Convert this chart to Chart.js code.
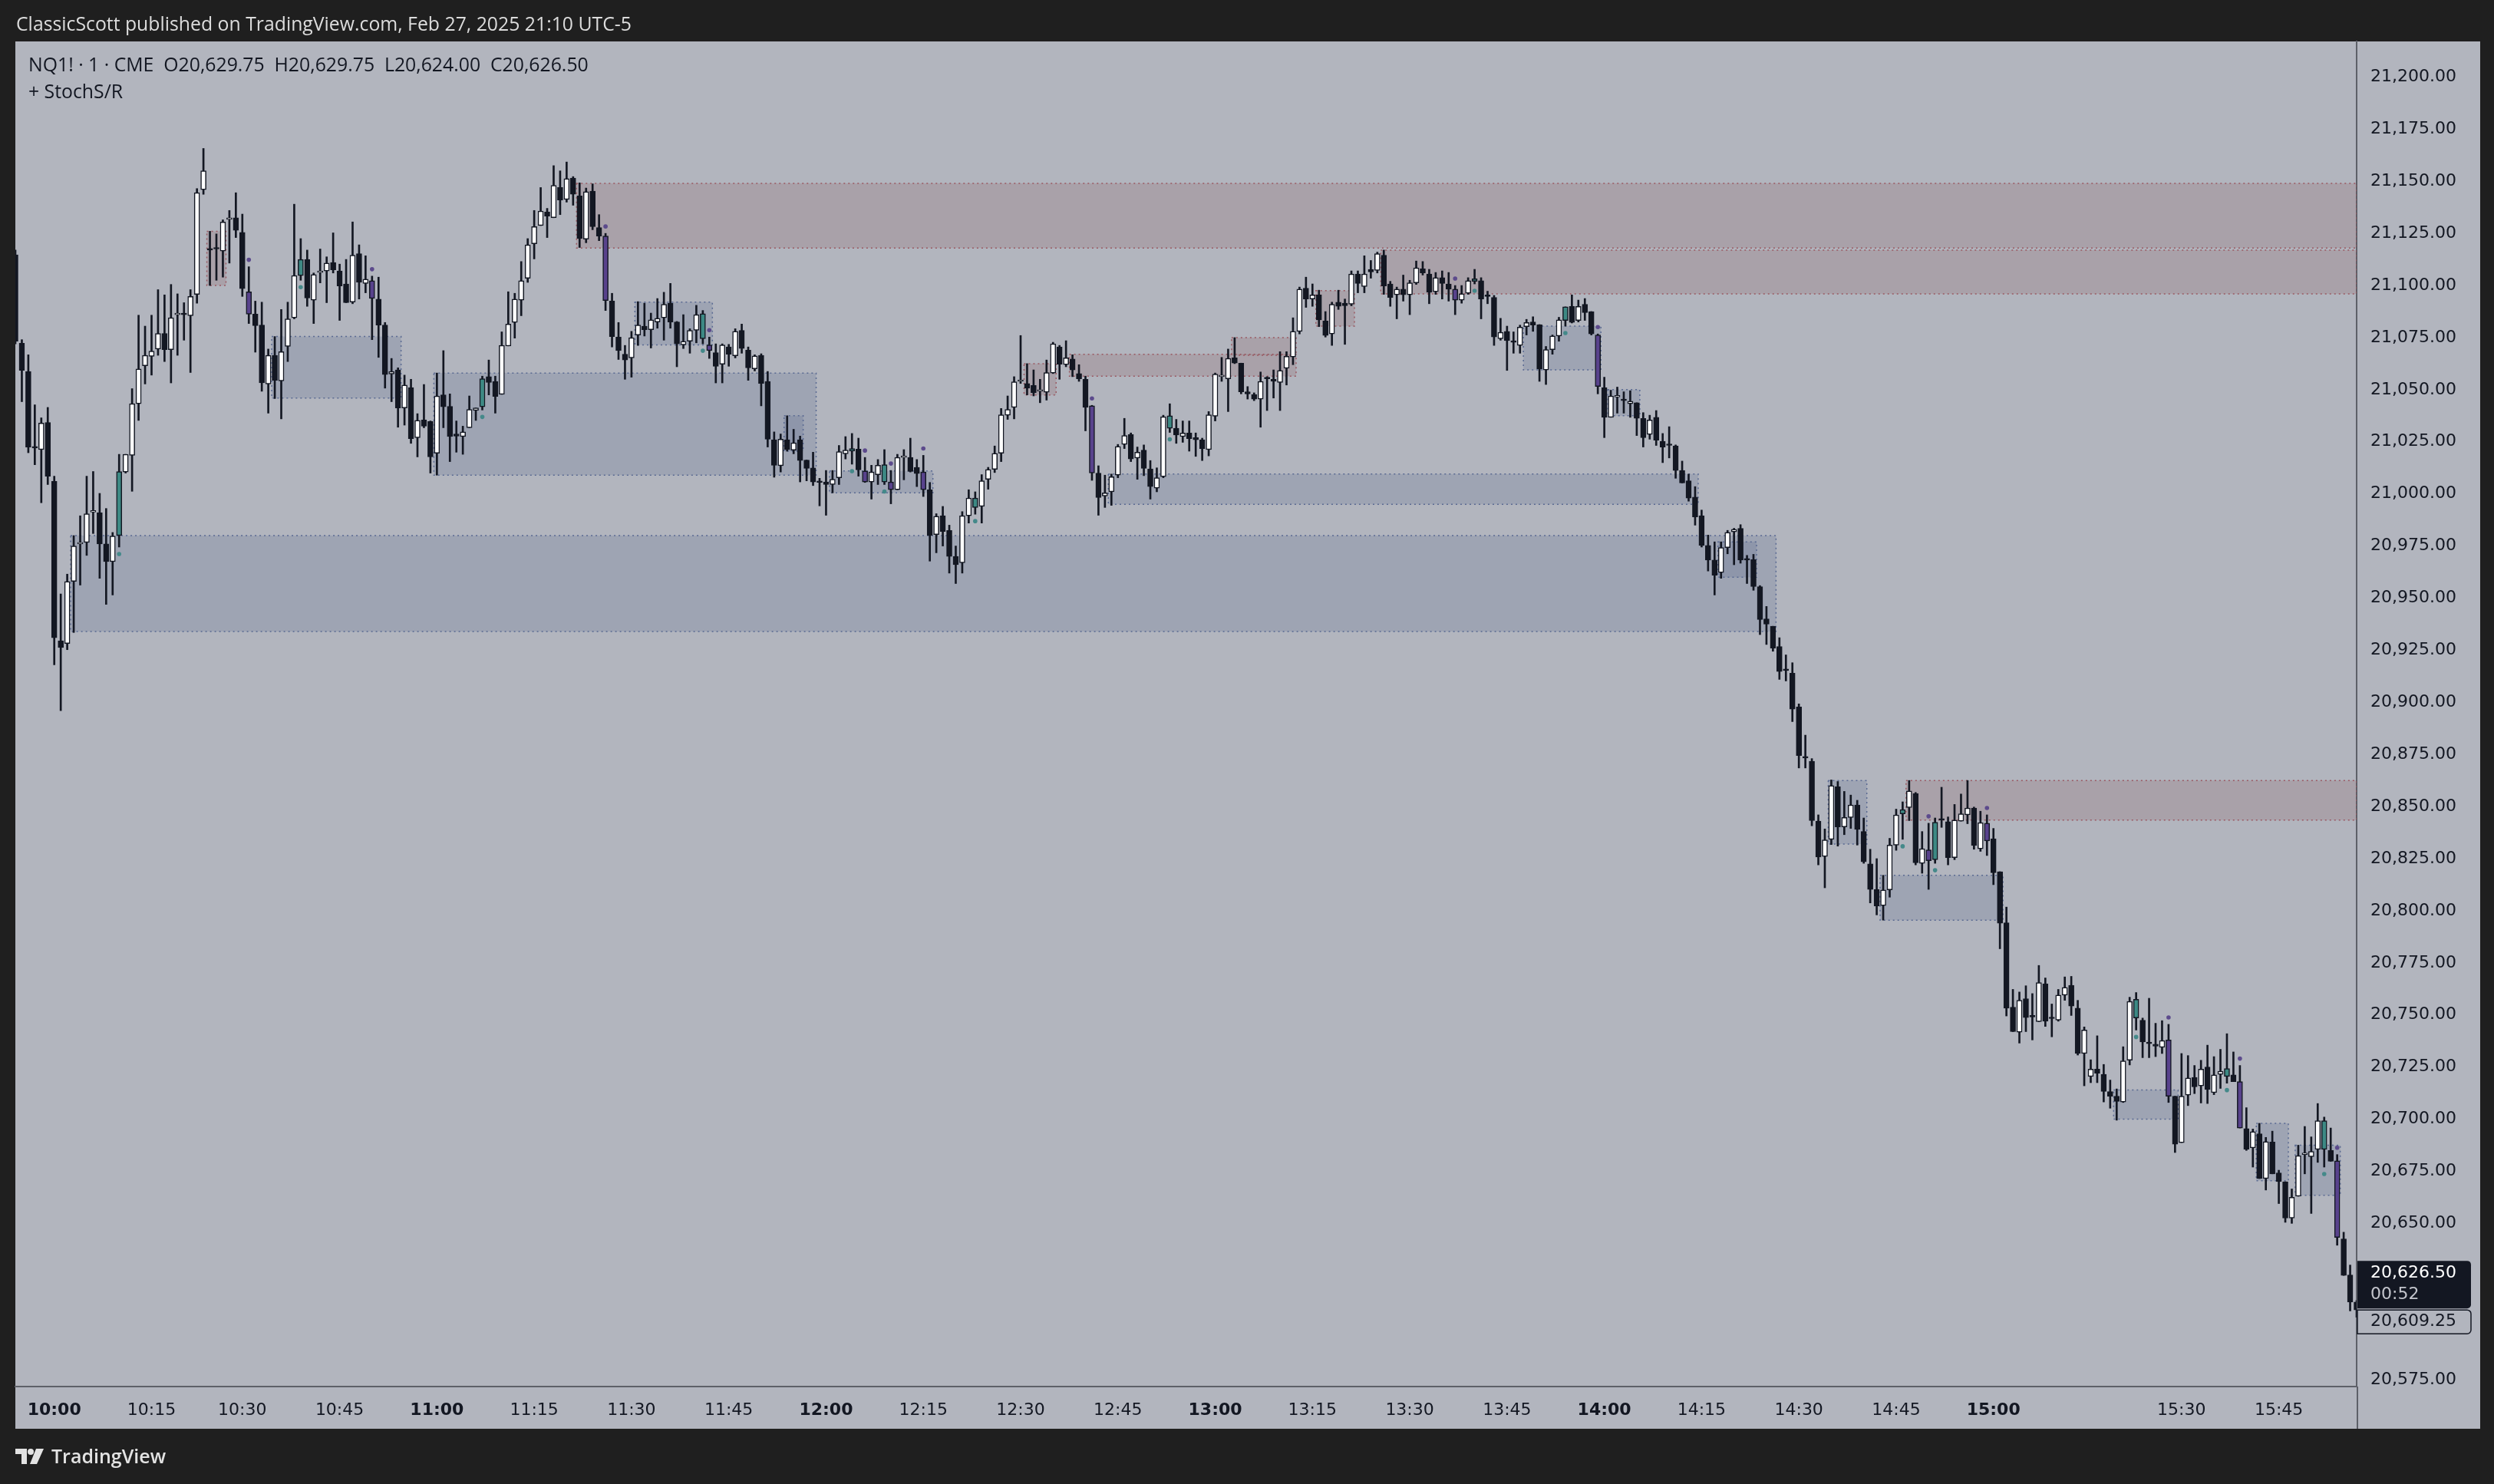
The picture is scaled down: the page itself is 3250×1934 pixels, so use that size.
<!DOCTYPE html>
<html>
<head>
<meta charset="utf-8">
<script src="https://cdn.jsdelivr.net/npm/chart.js@4.4.1/dist/chart.umd.min.js"></script>
<style>
  html, body { margin: 0; padding: 0; background: #1f1f1f; width: 3250px; height: 1934px; overflow: hidden; }
  #wrap { position: relative; width: 3250px; height: 1934px; }
  canvas { position: absolute; left: 0; top: 0; }
  .txt { position: absolute; font-family: "Open Sans", Roboto, sans-serif; white-space: pre; line-height: 27px; }
  #pub { left: 21px; top: 17px; font-size: 24.8px; color: #dcdcdc; }
  #ohlc { left: 37px; top: 70px; font-size: 24.8px; color: #131722; }
  #ind { left: 37px; top: 105px; font-size: 24.8px; color: #131722; }
  #brand { left: 20px; top: 1884px; font-size: 25px; color: #e3e3e3; font-weight: 600; display: flex; align-items: center; gap: 9px; }
</style>
</head>
<body>
<div id="wrap">
  <canvas id="chart" width="3250" height="1934"></canvas>
  <div class="txt" id="pub">ClassicScott published on TradingView.com, Feb 27, 2025 21:10 UTC-5</div>
  <div class="txt" id="ohlc">NQ1! · 1 · CME  O20,629.75  H20,629.75  L20,624.00  C20,626.50</div>
  <div class="txt" id="ind">+ StochS/R</div>
  <div class="txt" id="brand"><svg width="38" height="20" viewBox="0 0 38 20"><path d="M0 0h15v20h-7V7H0z" fill="#e3e3e3"/><circle cx="20" cy="4" r="4" fill="#e3e3e3"/><path d="M27 0h10l-9 20h-9z" fill="#e3e3e3"/></svg><span>TradingView</span></div>
</div>
<script>
"use strict";

// NQ1! 1-minute candles, 09:54 .. 15:55
var opens = [
  21114.75, 21072.25, 21058.75, 21022, 21021.25, 21034.25, 21006, 20929.5, 20928.25, 20958,
  20976, 20976.75, 20991.25, 20991, 20976, 20967.5, 20980, 21010.5, 21018.5, 21043.25,
  21061.5, 21066, 21069.5, 21077, 21069.25, 21086, 21086, 21085.5, 21095.75, 21146,
  21117, 21117.5, 21116.5, 21131.75, 21132.5, 21125.5, 21097, 21086.25, 21081, 21052.75,
  21066.5, 21054.25, 21070.75, 21084.5, 21104.75, 21112.5, 21093, 21106.25, 21107, 21111,
  21107, 21100.75, 21092, 21115.25, 21101, 21102.25, 21093.5, 21081, 21057.5, 21059.5,
  21041.25, 21051, 21027, 21035.5, 21034.75, 21019.5, 21047.5, 21042, 21028.75, 21027.5,
  21031.75, 21040, 21041.75, 21056.25, 21054, 21047.75, 21071, 21082.25, 21093, 21103.5,
  21120, 21128.75, 21135.25, 21132.5, 21147, 21141.25, 21151.5, 21143, 21122.25, 21145.25,
  21127.75, 21123.75, 21092.5, 21075.25, 21067, 21065.25, 21076.25, 21080.5, 21078.75, 21082.5,
  21084.5, 21091.5, 21082.5, 21071.5, 21073.25, 21078.5, 21086.5, 21071.5, 21067.75, 21062.25,
  21070.5, 21066.25, 21078.5, 21069, 21060, 21066.5, 21054, 21026, 21013.5, 21026,
  21021, 21026, 21016.25, 21012.5, 21005.5, 21005.75, 21004.5, 21007.75, 21019.25, 21020.5,
  21021.5, 21011, 21005.75, 21009.25, 21014, 21005.75, 21002, 21017.5, 21017.5, 21012.75,
  21010.5, 21002, 20980.5, 20989.5, 20982.5, 20970, 20967, 20989.5, 20998, 20994,
  21007, 21011.75, 21019.5, 21037.75, 21041.5, 21054, 21053, 21052, 21049.25, 21048.75,
  21058, 21070.5, 21062, 21064.75, 21057.75, 21055, 21042.25, 21010, 20999, 21001,
  21009, 21023.75, 21028.5, 21017.25, 21021, 21012, 21002.75, 21008.25, 21037.5, 21031.5,
  21027.5, 21029.25, 21027, 21026, 21021.25, 21037.25, 21056.25, 21055.25, 21065.25, 21062.75,
  21049, 21047.75, 21045.5, 21055.25, 21055, 21053.5, 21060.25, 21065.75, 21078, 21098.75,
  21093.5, 21095.5, 21083, 21076.75, 21092, 21091.5, 21091, 21105.5, 21099.5, 21107.75,
  21107.25, 21114.5, 21100.75, 21095.5, 21098.25, 21095.5, 21101.25, 21108, 21105.5, 21097,
  21103.75, 21100.75, 21098.25, 21093, 21096.25, 21102, 21102.25, 21094.75, 21094.25, 21074.5,
  21078, 21072.75, 21071.25, 21080.25, 21082.5, 21081.25, 21059.5, 21069.25, 21075.75, 21083.25,
  21090, 21083.25, 21091, 21087.5, 21076.25, 21051, 21036.75, 21046.5, 21044.75, 21043.25,
  21043.75, 21036.25, 21028.5, 21036.75, 21025.25, 21023.25, 21023, 21011.25, 21006.25, 20998.5,
  20989.5, 20975.25, 20968.25, 20962.25, 20974.25, 20981.75, 20983.5, 20968.25, 20968.5, 20955.5,
  20940, 20936.5, 20926.75, 20915.25, 20914, 20897.75, 20873.25, 20871.75, 20843, 20826,
  20834.25, 20859.5, 20840.25, 20844.75, 20850.75, 20838, 20822.5, 20810.25, 20802.5, 20810,
  20831.5, 20846.5, 20849.5, 20856.25, 20822.75, 20829.25, 20824.5, 20843.5, 20842.75, 20825.5,
  20843, 20846, 20849.25, 20829.75, 20842, 20834.5, 20818.75, 20794.25, 20753.75, 20741.75,
  20757.75, 20749, 20746.75, 20765, 20748.25, 20747.5, 20759.5, 20764.25, 20753.25, 20731.5,
  20720.5, 20724, 20721.5, 20713.25, 20711, 20708.25, 20728.25, 20757.5, 20747.5, 20736.25,
  20736, 20734.5, 20738, 20711, 20688.75, 20711.5, 20720, 20716, 20725, 20712.75,
  20721.5, 20720.5, 20721.25, 20718, 20695.5, 20686.25, 20693, 20671.5, 20689, 20674.25,
  20670, 20652.5, 20663, 20683, 20682, 20685.5, 20699.25, 20685, 20680, 20642.5,
  20625.25, 20612.25
];

var highs = [
  21117, 21074, 21066.75, 21042.75, 21036.5, 21041.5, 21008.5, 20952, 20961.5, 20980,
  20989.5, 21008.5, 21010.75, 21000.25, 20993, 20981.5, 21019, 21019, 21050.5, 21085.75,
  21080.5, 21085.75, 21098, 21095.5, 21100.5, 21096, 21091.75, 21098, 21146.5, 21165.75,
  21126, 21124.75, 21131.5, 21136, 21144.5, 21134.25, 21109, 21092.5, 21092, 21069.5,
  21075.5, 21088.5, 21092, 21139, 21122.5, 21117, 21106, 21117.5, 21113.75, 21125.25,
  21110.25, 21112.5, 21130.5, 21119.5, 21114.25, 21104.5, 21104, 21082.25, 21065, 21060.5,
  21057, 21055, 21038.5, 21052.5, 21035, 21058, 21068.75, 21048, 21035, 21032.5,
  21047, 21041.25, 21056.5, 21064.25, 21056.5, 21077.75, 21097, 21096.25, 21111.5, 21122.5,
  21136, 21147, 21137, 21157.5, 21155, 21159.25, 21152.25, 21149.25, 21146.75, 21148.75,
  21134, 21125, 21096.25, 21082.25, 21071.25, 21078, 21092.25, 21091.5, 21086.75, 21093.75,
  21096.75, 21101, 21082.75, 21086, 21079.25, 21090.5, 21088, 21075.25, 21072, 21072,
  21071.75, 21079.25, 21081.5, 21070.5, 21066.75, 21067.25, 21058.75, 21029.75, 21028.75, 21037.5,
  21031, 21027.75, 21016.25, 21020, 21007.5, 21011.25, 21011.25, 21023.25, 21027.5, 21029,
  21026.75, 21017.5, 21013.75, 21016.5, 21021.25, 21011.25, 21019, 21021.25, 21026.75, 21016.5,
  21018.5, 21005.5, 20990.5, 20994, 20985, 20975, 20991.5, 21002, 21001, 21009.25,
  21012.75, 21023, 21041, 21047, 21056.25, 21076, 21062.5, 21059.5, 21055, 21064.25,
  21072.75, 21071.25, 21073.5, 21066.75, 21062, 21056.5, 21042.5, 21013.5, 21009, 21009.5,
  21023.75, 21036.25, 21029.25, 21022.5, 21023.5, 21016, 21012.5, 21037.75, 21043.25, 21035.75,
  21035, 21035, 21029.25, 21026.75, 21039.5, 21058, 21065.5, 21069.5, 21075, 21062.75,
  21051.5, 21048.5, 21058.5, 21056.25, 21059.5, 21068.25, 21068.25, 21084.5, 21099.25, 21104,
  21100.75, 21097.75, 21087.5, 21092, 21097.75, 21093.5, 21107, 21107, 21114.25, 21112,
  21116, 21117, 21102, 21099.25, 21105, 21102.5, 21111.75, 21111.5, 21107.75, 21106.25,
  21107, 21106.25, 21100, 21100, 21103.75, 21107.75, 21103.75, 21097.25, 21095.25, 21084.25,
  21080.5, 21077.75, 21081, 21083.75, 21085, 21081.25, 21070.75, 21076.25, 21084.75, 21089.75,
  21095.5, 21093, 21093.75, 21087.5, 21076.75, 21056, 21049.75, 21051.25, 21049, 21049.5,
  21043.75, 21039, 21037.75, 21040, 21029, 21032.25, 21023.5, 21015.75, 21009.5, 21003.5,
  20992.25, 20980.25, 20977, 20977, 20982.5, 20983.5, 20985.25, 20970.5, 20971, 20956,
  20946, 20936.5, 20931, 20922.75, 20919, 20899.25, 20884.25, 20873, 20846, 20839.25,
  20862.75, 20862, 20857.25, 20855.5, 20853, 20844.5, 20829.5, 20825, 20817, 20834.75,
  20848.75, 20852.25, 20862.5, 20856.75, 20838, 20842, 20844.5, 20859.25, 20845, 20851,
  20856, 20862.5, 20849.75, 20847.75, 20846, 20839.5, 20818.75, 20801.75, 20762.25, 20761,
  20764, 20760.25, 20773.75, 20767.75, 20755.25, 20762.25, 20768.25, 20768.5, 20757, 20744.25,
  20728.5, 20740, 20726.25, 20718.75, 20714.5, 20734.75, 20758.5, 20760.75, 20748.5, 20758,
  20746, 20747.25, 20745.5, 20711, 20731.5, 20730.5, 20725.75, 20728.25, 20735.5, 20730,
  20733.5, 20741, 20732.25, 20725.75, 20705.5, 20695.25, 20698, 20691.25, 20694.25, 20675.5,
  20670, 20666.5, 20687.5, 20696.5, 20691.5, 20707.5, 20701, 20695.75, 20683, 20645.75,
  20630, 20613
];

var lows = [
  21072, 21044.25, 21019.75, 21014, 20995.75, 21004.5, 20918, 20896, 20925.25, 20933.5,
  20956.25, 20970.5, 20981, 20959.5, 20947, 20951.5, 20974.5, 21010, 21001.25, 21035.25,
  21052.75, 21057, 21066.5, 21063.5, 21053.25, 21066.5, 21073.75, 21058.25, 21091.5, 21143.75,
  21100, 21102.5, 21104, 21110.75, 21123, 21094.75, 21081.75, 21068, 21049.25, 21038.75,
  21045.75, 21036, 21063.5, 21084, 21102.5, 21090, 21081.75, 21101.25, 21091.75, 21106,
  21083.25, 21091.75, 21091.25, 21093.5, 21096.5, 21074, 21065.5, 21050.75, 21044.25, 21032,
  21033, 21024.25, 21017.75, 21031.75, 21010, 21009, 21031.75, 21015.5, 21020, 21019,
  21031.75, 21035.25, 21040.25, 21047.5, 21038.75, 21047.75, 21071, 21074.75, 21085.5, 21101.5,
  21112.75, 21128.75, 21123, 21132.5, 21134, 21140, 21138.5, 21118.25, 21120.5, 21126.75,
  21121.5, 21088, 21070.5, 21064.5, 21055, 21056, 21071.25, 21075.75, 21070, 21079.5,
  21073.75, 21079.5, 21061, 21069.75, 21067.5, 21072.5, 21072, 21065, 21053.25, 21053.25,
  21061.25, 21065.25, 21067.5, 21054.5, 21059, 21042.25, 21022.5, 21008, 21010.5, 21020.5,
  21019.25, 21005.75, 21006.25, 21004, 20994.25, 20989.75, 21000.5, 21004.5, 21016.75, 21014.25,
  21008.5, 21005.5, 20997.5, 21004.5, 21004.5, 20995.25, 21002, 21006.75, 21010.5, 21003.5,
  20998.75, 20967.75, 20971.75, 20975, 20962, 20957, 20962, 20986, 20990.25, 20986,
  21002.25, 21010.25, 21015.5, 21035.75, 21036, 21053, 21047.5, 21047, 21043.75, 21045,
  21057.75, 21055, 21061, 21056.25, 21054, 21030.25, 21006.5, 20989.75, 20993.5, 20994.5,
  21007.75, 21021.75, 21015.5, 21007, 21008.75, 20997.5, 21001, 21007.75, 21029.5, 21024.25,
  21024.75, 21020.5, 21018, 21016, 21018.25, 21035, 21054, 21039.5, 21062.5, 21048,
  21045.5, 21044.75, 21032, 21040, 21046, 21040, 21052.25, 21062, 21076.75, 21089.5,
  21090, 21080.25, 21075.25, 21071.25, 21088.5, 21071.75, 21090.25, 21096.5, 21096.5, 21103.5,
  21106, 21095.75, 21090, 21084, 21092.5, 21086, 21100.5, 21105, 21091.25, 21095.75,
  21093.5, 21092.5, 21086, 21091.5, 21095.75, 21100.75, 21084, 21091.25, 21071.25, 21073.75,
  21059.25, 21067.5, 21067.5, 21076.25, 21078, 21054, 21052.5, 21067, 21073.25, 21080.5,
  21082, 21082.5, 21083.25, 21076.25, 21048, 21027, 21036.75, 21038.75, 21038.75, 21036.75,
  21028, 21022.5, 21026.25, 21023.25, 21015, 21017.25, 21007.5, 21005.25, 20996.5, 20985,
  20974.5, 20963, 20951.5, 20959.5, 20971.25, 20966, 20966.75, 20957, 20953.75, 20932.5,
  20927.75, 20924.5, 20911, 20910.25, 20890.75, 20868.5, 20868.5, 20840.75, 20822, 20811,
  20831.75, 20831, 20836.5, 20839.5, 20831.5, 20822.75, 20803.75, 20798, 20795.5, 20806.5,
  20829, 20834.25, 20843.25, 20822, 20818, 20810.25, 20822.75, 20840, 20822, 20824.5,
  20843, 20841.75, 20829.5, 20828.5, 20826.5, 20812.5, 20781.75, 20749.5, 20742, 20736.5,
  20742, 20738, 20746.75, 20744.5, 20739.5, 20747, 20757, 20749.75, 20730.75, 20716,
  20717.5, 20717.5, 20708.25, 20705.25, 20699.5, 20708, 20726, 20742.75, 20729.5, 20729.5,
  20730, 20731.5, 20708, 20684, 20688.75, 20706.5, 20712.25, 20707.75, 20707.5, 20711.75,
  20714.75, 20717.25, 20718, 20695.75, 20685, 20677, 20671.5, 20666, 20673.75, 20659.5,
  20650.5, 20650, 20663, 20673.75, 20654.75, 20679.25, 20677, 20679.75, 20639.5, 20625,
  20608, 20605
];

var closes = [
  21073.25, 21059.25, 21022.5, 21022.5, 21034, 21008.5, 20931, 20926.25, 20958, 20975,
  20976.25, 20990.5, 20991.5, 20976, 20967.5, 20979.75, 21010.75, 21019, 21043.25, 21060,
  21066.5, 21068.5, 21077, 21069.25, 21084.5, 21086.5, 21086.25, 21094.75, 21144.5, 21155,
  21117, 21117.5, 21130.5, 21132.5, 21126.5, 21098.5, 21086.25, 21080.75, 21053.25, 21066.5,
  21054.5, 21068.25, 21084, 21104.75, 21112.5, 21094, 21105.25, 21106.5, 21110.75, 21107.5,
  21099.75, 21091.75, 21114.5, 21101.5, 21103, 21093.75, 21081, 21057.25, 21058.75, 21041.25,
  21052.25, 21026.5, 21035.25, 21032.5, 21017.75, 21047, 21041.75, 21027.5, 21027.75, 21029.75,
  21040.5, 21041.25, 21055.25, 21053.5, 21046.75, 21071.25, 21081.5, 21093.5, 21102.25, 21119.5,
  21128.25, 21135.75, 21133.25, 21148, 21141, 21151.25, 21143.75, 21122.5, 21145, 21128.25,
  21123.75, 21092.75, 21075.5, 21068.75, 21064.25, 21075, 21081, 21078.75, 21083.5, 21084.25,
  21091, 21082.5, 21072, 21073.25, 21078.5, 21086, 21074.5, 21068.75, 21061.25, 21071.5,
  21067, 21078, 21069.75, 21060.5, 21066.25, 21053, 21026.25, 21013.75, 21026.25, 21021.25,
  21024.5, 21016, 21012.25, 21005.75, 21005.5, 21004.5, 21007, 21020.25, 21021, 21021.75,
  21011.5, 21005.75, 21010.5, 21013.75, 21005.75, 21002, 21017.5, 21017.75, 21010.75, 21009.75,
  21002, 20980, 20989.25, 20982, 20970, 20966, 20989.5, 20998, 20993.5, 21006.25,
  21011.75, 21019.5, 21038, 21040.5, 21053.75, 21054.25, 21050.75, 21048.5, 21049.25, 21058.25,
  21072, 21062.25, 21065.25, 21059.5, 21055.25, 21041.5, 21010, 20998.25, 21000.5, 21008.25,
  21022.75, 21028, 21016.75, 21020, 21012.25, 21003.5, 21007.75, 21037, 21031.5, 21028.25,
  21029.25, 21026.5, 21026, 21021.75, 21038, 21057.5, 21056.5, 21065, 21062.75, 21049,
  21048, 21045.5, 21054, 21055.25, 21054, 21059.25, 21066, 21078, 21098.25, 21093.5,
  21095.5, 21083.5, 21076, 21091, 21090, 21090.25, 21105.5, 21101, 21105.5, 21106.5,
  21115.25, 21099.75, 21094.25, 21098.25, 21095.5, 21101.25, 21108.5, 21106, 21096.75, 21103.75,
  21101, 21098.25, 21093, 21096, 21102.25, 21103.25, 21093.5, 21094.75, 21075.25, 21077.5,
  21073.5, 21072.75, 21080, 21082.25, 21081, 21060, 21069.25, 21075.75, 21083.5, 21089.75,
  21082.25, 21090, 21087, 21076.75, 21051.5, 21036.75, 21047, 21046.5, 21044.75, 21044.5,
  21036.25, 21027, 21035.5, 21025.75, 21022.5, 21023.25, 21011.25, 21005.25, 20998, 20989,
  20975.25, 20968.25, 20961, 20974.25, 20981.5, 20983, 20968.25, 20968.25, 20955.5, 20939.75,
  20937.5, 20926, 20914.75, 20915.25, 20896.75, 20874.5, 20873.25, 20843.25, 20825.75, 20834,
  20860, 20840.25, 20844.75, 20850.75, 20839, 20823.5, 20810.25, 20802.25, 20810, 20831.5,
  20846, 20848.5, 20857.5, 20823, 20829.75, 20824, 20842.5, 20843.5, 20825.5, 20843.5,
  20846.5, 20849.25, 20831.25, 20842.25, 20833.5, 20818.25, 20794, 20753.25, 20742, 20757,
  20748.75, 20749, 20765.5, 20747, 20748.25, 20759.5, 20763.25, 20754.25, 20731.5, 20742.75,
  20724, 20722, 20713.25, 20711, 20708.5, 20728, 20756.5, 20748.5, 20737, 20736.25,
  20735, 20737.75, 20711, 20688, 20711, 20719.75, 20715.5, 20724, 20714.25, 20721.25,
  20723, 20724.25, 20718, 20695.75, 20685.5, 20694, 20671.5, 20689.25, 20673.75, 20670,
  20652.5, 20662.5, 20682.5, 20683, 20684.5, 20699.25, 20685.5, 20679.75, 20643.25, 20625,
  20612.25, 20608.5
];

// candle paint: w = up (hollow), b = down, t = teal signal bar, p = purple signal bar
var candleTone = (
  "bbbbwbbbww wwwbbwtwww wwwbwwbwww bbwwbbpbbw bwwwtbwwwb bbwbwpbbwb" +
  "wbwbbwbbbw wwtbbwwwww wwbwbwbbwb bpbbbwwbww wbbwwwtpbw bwbbwbbbwb" +
  "wbbbbbwwwt bpwwtpwwbb pbwbbbwwtw wwwwwwbbww wbwbbbpbww wwbwbbwwtb" +
  "wbbbwwwwbb bbwbbwwwwb wbbwbbwbwb wbbwbwwbbw bbpwwtbbbw bbwwbbwwwt" +
  "bwbbpbwwbw bbwbbbbbbb bbbwwwbbbb bbbbbbbbbw wbwwbbbbww wtwbwptbbw" +
  "wwbwpbbbbw bbwbbwwbbw wbbbbwwtbb bwpbwwbwbw wtbpbwbwbb bwwwwwtbpb bb"
).replace(/ /g, "").split("");

// time axis labels and the bar each one sits under
var tickLabels = ["10:00", "10:15", "10:30", "10:45", "11:00", "11:15", "11:30", "11:45",
  "12:00", "12:15", "12:30", "12:45", "13:00", "13:15", "13:30", "13:45", "14:00", "14:15",
  "14:30", "14:45", "15:00", "15:30", "15:45"];
var tickBars = [6, 21, 35, 50, 65, 80, 95, 110, 125, 140, 155, 170, 185, 200, 215, 230, 245,
  260, 275, 290, 305, 334, 349];

var priceTicks = [20575, 20600, 20625, 20650, 20675, 20700, 20725, 20750, 20775, 20800,
  20825, 20850, 20875, 20900, 20925, 20950, 20975, 21000, 21025, 21050, 21075, 21100,
  21125, 21150, 21175, 21200];

// StochS/R supply (r) and demand (b) boxes: first bar, last bar, top, bottom
var zoneKind = ["r", "r", "r", "r", "r", "r", "r", "r",
  "b", "b", "b", "b", "b", "b", "b", "b", "b", "b", "b", "b", "b", "b", "b"];
var zoneFrom = [87, 211, 292, 30, 156, 163, 188, 201,
  9, 40, 65, 96, 119, 126, 169, 233, 246, 263, 280, 288, 324, 346, 352];
var zoneTo = [361, 361, 361, 32, 160, 197, 197, 206,
  271, 59, 123, 107, 121, 141, 259, 244, 250, 268, 285, 306, 333, 350, 358];
var zoneHigh = [21149, 21117, 20862.5, 21126, 21062.5, 21067, 21075, 21097.5,
  20980, 21075.5, 21058, 21092, 21037.5, 21011, 21009.5, 21080.5, 21050, 20977, 20862.5,
  20817, 20714, 20698, 20687.5];
var zoneLow = [21118, 21096, 20843.5, 21100, 21047.5, 21056.5, 21066.5, 21080.5,
  20934, 21046, 21009, 21071.5, 21020.5, 21000.5, 20995, 21059.5, 21037.5, 20960, 20832,
  20795.5, 20700, 20670.5, 20663.5];

var lastPrice = 20626.5;
var countdown = "00:52";
var markPrice = 20609.25;

var INK = "#131722";
var BG = "#b2b5be";
var TONE = { w: "#ffffff", b: INK, t: "#3d8984", p: "#58428c" };
var AXIS_FONT = "'DejaVu Sans', sans-serif";

function fmtPrice(v) {
  return v.toLocaleString("en-US", { minimumFractionDigits: 2, maximumFractionDigits: 2 });
}

var tickAt = {};
tickBars.forEach(function (b, i) { tickAt[b] = tickLabels[i]; });

var barLabels = opens.map(function (o, i) { return String(i); });

// light panel behind plot + both axes
var panelPlugin = {
  id: "panel",
  beforeDraw: function (chart) {
    var c = chart.ctx, a = chart.chartArea;
    c.save();
    c.fillStyle = BG;
    c.fillRect(a.left, a.top, chart.scales.y.right - a.left, chart.scales.x.bottom - a.top);
    c.restore();
  },
  afterDraw: function (chart) {
    var c = chart.ctx, a = chart.chartArea;
    c.save();
    c.strokeStyle = "#5d6068";
    c.lineWidth = 2;
    c.beginPath();
    c.moveTo(a.right + 1, a.bottom);
    c.lineTo(a.right + 1, chart.scales.x.bottom);
    c.stroke();
    c.restore();
  }
};

var zonePlugin = {
  id: "zones",
  beforeDatasetsDraw: function (chart) {
    var c = chart.ctx, a = chart.chartArea, xs = chart.scales.x, ys = chart.scales.y;
    c.save();
    c.beginPath();
    c.rect(a.left, a.top, a.right - a.left, a.bottom - a.top);
    c.clip();
    zoneKind.forEach(function (k, i) {
      var x0 = xs.getPixelForValue(zoneFrom[i]) - 4;
      var x1 = Math.min(xs.getPixelForValue(zoneTo[i]) + 4, a.right);
      var y0 = ys.getPixelForValue(zoneHigh[i]);
      var y1 = ys.getPixelForValue(zoneLow[i]);
      c.fillStyle = k === "r" ? "rgba(130,70,80,0.18)" : "rgba(60,80,130,0.165)";
      c.fillRect(x0, y0, x1 - x0, y1 - y0);
      c.strokeStyle = k === "r" ? "#9a5962" : "#5a6a92";
      c.lineWidth = 1.5;
      c.setLineDash([2, 4]);
      c.strokeRect(x0, y0, x1 - x0, y1 - y0);
    });
    c.restore();
  }
};

var dotPlugin = {
  id: "dots",
  afterDatasetsDraw: function (chart) {
    var c = chart.ctx, a = chart.chartArea, xs = chart.scales.x, ys = chart.scales.y;
    c.save();
    c.beginPath();
    c.rect(a.left, a.top, a.right - a.left, a.bottom - a.top);
    c.clip();
    candleTone.forEach(function (t, i) {
      if (t !== "t" && t !== "p") return;
      var x = xs.getPixelForValue(i);
      var y = t === "p" ? ys.getPixelForValue(highs[i]) - 9 : ys.getPixelForValue(lows[i]) + 9;
      c.fillStyle = t === "p" ? "#5c4a8c" : "#44898a";
      c.beginPath();
      c.arc(x, y, 2.8, 0, Math.PI * 2);
      c.fill();
    });
    c.restore();
  }
};

var pricePlugin = {
  id: "priceTags",
  afterDraw: function (chart) {
    var c = chart.ctx, a = chart.chartArea, ys = chart.scales.y;
    var y = ys.getPixelForValue(lastPrice);
    var x0 = a.right + 1, w = 148;
    c.save();
    c.fillStyle = INK;
    c.beginPath();
    c.roundRect(x0, y - 15, w, 62, [0, 5, 5, 0]);
    c.fill();
    c.font = "22px " + AXIS_FONT;
    c.textBaseline = "middle";
    c.textAlign = "left";
    c.fillStyle = "#ffffff";
    c.fillText(fmtPrice(lastPrice), x0 + 17, y + 1);
    c.fillStyle = "#c3c5cc";
    c.fillText(countdown, x0 + 17, y + 29);
    c.fillStyle = BG;
    c.strokeStyle = INK;
    c.lineWidth = 1.5;
    c.beginPath();
    c.roundRect(x0, y + 49, w, 31, [0, 5, 5, 0]);
    c.fill();
    c.stroke();
    c.fillStyle = INK;
    c.fillText(fmtPrice(markPrice), x0 + 17, y + 64);
    c.restore();
  }
};

new Chart(document.getElementById("chart"), {
  type: "bar",
  data: {
    labels: barLabels,
    datasets: [
      {
        label: "body",
        data: opens.map(function (o, i) { return [o, closes[i]]; }),
        backgroundColor: candleTone.map(function (t) { return TONE[t]; }),
        borderColor: INK,
        borderWidth: 1.5,
        borderSkipped: false,
        barThickness: 7,
        minBarLength: 2,
        grouped: false,
        order: 0
      },
      {
        label: "wick",
        data: lows.map(function (l, i) { return [l, highs[i]]; }),
        backgroundColor: INK,
        borderWidth: 0,
        barThickness: 2,
        grouped: false,
        order: 1
      }
    ]
  },
  options: {
    responsive: false,
    animation: false,
    devicePixelRatio: 1,
    layout: { padding: { left: 20, top: 54, right: 18, bottom: 72 } },
    plugins: { legend: { display: false }, tooltip: { enabled: false } },
    scales: {
      x: {
        type: "category",
        offset: false,
        grid: { display: false, drawTicks: false },
        border: { display: true, color: "#5d6068", width: 2 },
        ticks: {
          autoSkip: false,
          maxRotation: 0,
          minRotation: 0,
          padding: 18,
          color: INK,
          callback: function (v, i) { return tickAt[i] !== undefined ? tickAt[i] : null; },
          font: function (ctx) {
            var lab = ctx.tick && ctx.tick.label;
            var bold = typeof lab === "string" && lab.slice(-3) === ":00";
            return { family: AXIS_FONT, size: 22, weight: bold ? "bold" : "normal" };
          }
        },
        afterFit: function (s) { s.height = 55; }
      },
      y: {
        position: "right",
        min: 20571.7,
        max: 21217.1,
        grid: { display: false, drawTicks: false },
        border: { display: true, color: "#5d6068", width: 2 },
        ticks: {
          padding: 18,
          color: INK,
          font: { family: AXIS_FONT, size: 22 },
          callback: function (v) { return fmtPrice(v); }
        },
        afterBuildTicks: function (s) {
          s.ticks = priceTicks.map(function (v) { return { value: v }; });
        },
        afterFit: function (s) { s.width = 161; }
      }
    }
  },
  plugins: [panelPlugin, zonePlugin, dotPlugin, pricePlugin]
});
</script>
</body>
</html>
